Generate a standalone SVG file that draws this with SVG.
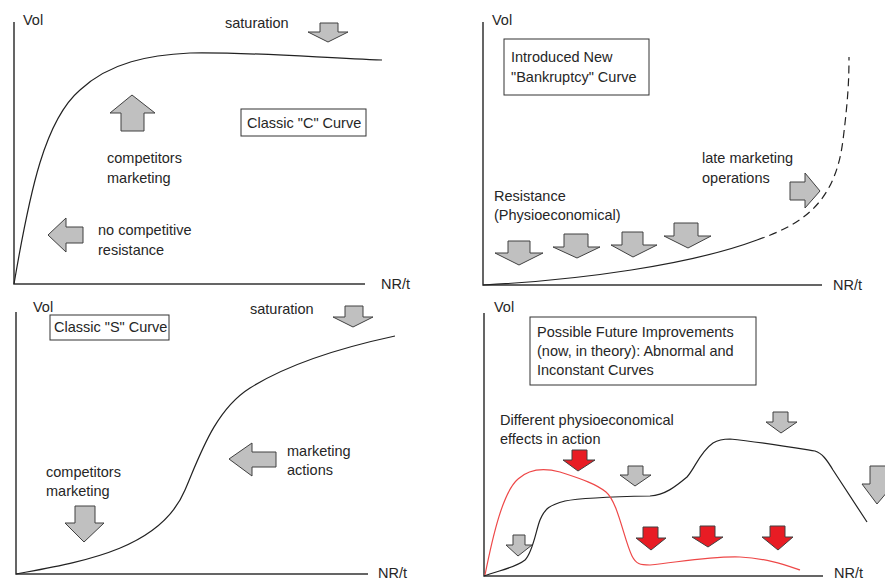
<svg xmlns="http://www.w3.org/2000/svg" width="885" height="581" viewBox="0 0 885 581">
  <style>
    text { font-family: "Liberation Sans", Arial, sans-serif; font-size: 14.5px; fill: #262626; }
    .axis { fill: none; stroke: #333; stroke-width: 1.5; }
    .curve { fill: none; stroke: #222; stroke-width: 1.2; }
    .dashed { fill: none; stroke: #222; stroke-width: 1.2; stroke-dasharray: 8 5; }
    .red-curve { fill: none; stroke: #ee4848; stroke-width: 1.2; }
    .box { fill: #fff; stroke: #333; stroke-width: 1; }
    .arrow { fill: #c0c0c0; stroke: #404040; stroke-width: 1; stroke-linejoin: miter; }
    .arrow-red { fill: #e81c24; stroke: #404040; stroke-width: 1; }
  </style>
  <rect width="885" height="581" fill="#fff"/>

  <!-- Panel 1: classic C curve -->
  <g id="panel-c">
    <path class="axis" d="M14,22 V284 H365"/>
    <text x="23" y="25">Vol</text>
    <text x="381" y="289">NR/t</text>
    <path class="curve" d="M14,284 C30,190 45,120 80,90 C110,62 150,55 190,53 C260,52 320,58 382,60"/>
    <g id="c-saturation">
      <text x="225" y="28">saturation</text>
      <path class="arrow" d="M320,23 H338 V32 H348 L328,42 L308,32 H320 Z"/>
    </g>
    <g id="c-competitors">
      <path class="arrow" d="M121,131 V113 H110 L132,95 L155,113 H144 V131 Z"/>
      <text x="107" y="163">competitors</text>
      <text x="107" y="183">marketing</text>
    </g>
    <g id="c-no-resistance">
      <path class="arrow" d="M83,227 H66 V218 L48,235 L66,252 V243 H83 Z"/>
      <text x="98" y="235">no competitive</text>
      <text x="98" y="255">resistance</text>
    </g>
    <g id="c-title">
      <rect class="box" x="241" y="109" width="125" height="27"/>
      <text x="247" y="128">Classic "C" Curve</text>
    </g>
  </g>

  <!-- Panel 2: bankruptcy curve -->
  <g id="panel-bankruptcy">
    <path class="axis" d="M483,22 V285 H822"/>
    <text x="492" y="25">Vol</text>
    <text x="833" y="290">NR/t</text>
    <path class="curve" d="M483,285 C580,280 690,265 757,240"/>
    <path class="dashed" d="M757,240 C800,225 835,205 843,140 C848,100 849,80 849,57"/>
    <g id="b-title">
      <rect class="box" x="504" y="39" width="145" height="56"/>
      <text x="511" y="62">Introduced New</text>
      <text x="511" y="82">"Bankruptcy" Curve</text>
    </g>
    <g id="b-late-marketing">
      <text x="702" y="163">late marketing</text>
      <text x="702" y="183">operations</text>
      <path class="arrow" d="M790,182 H805 V173 L820,191 L805,208 V200 H790 Z"/>
    </g>
    <g id="b-resistance">
      <text x="494" y="201">Resistance</text>
      <text x="494" y="220">(Physioeconomical)</text>
      <path class="arrow" d="M508,241 H530 V253 H543 L519,265 L495,253 H508 Z"/>
      <path class="arrow" d="M564,234 H588 V247 H600 L577,258 L553,247 H564 Z"/>
      <path class="arrow" d="M622,232 H643 V245 H657 L633,257 L611,245 H622 Z"/>
      <path class="arrow" d="M674,223 H698 V236 H711 L688,248 L664,236 H674 Z"/>
    </g>
  </g>

  <!-- Panel 3: classic S curve -->
  <g id="panel-s">
    <path class="axis" d="M16,312 V574 H368"/>
    <text x="33" y="312">Vol</text>
    <text x="378" y="578">NR/t</text>
    <path class="curve" d="M16,574 C80,562 160,550 185,490 C200,455 215,410 250,388 C285,366 330,350 395,336"/>
    <g id="s-title">
      <rect class="box" x="50" y="315" width="119" height="25"/>
      <text x="54" y="332">Classic "S" Curve</text>
    </g>
    <g id="s-saturation">
      <text x="250" y="314">saturation</text>
      <path class="arrow" d="M345,306 H363 V317 H373 L353,327 L333,317 H345 Z"/>
    </g>
    <g id="s-marketing-actions">
      <path class="arrow" d="M276,452 H252 V443 L229,459 L252,476 V467 H276 Z"/>
      <text x="287" y="456">marketing</text>
      <text x="287" y="475">actions</text>
    </g>
    <g id="s-competitors">
      <text x="46" y="477">competitors</text>
      <text x="46" y="496">marketing</text>
      <path class="arrow" d="M75,506 H95 V523 H104 L84,542 L65,523 H75 Z"/>
    </g>
  </g>

  <!-- Panel 4: abnormal and inconstant curves -->
  <g id="panel-future">
    <path class="axis" d="M484,313 V576 H823"/>
    <text x="494" y="312">Vol</text>
    <text x="834" y="578">NR/t</text>
    <path class="curve" d="M484,576 C500,570 515,568 525,560 C533,552 536,530 540,520 C545,508 550,505 565,501 C580,498 600,497 650,496 C665,495 675,487 687,477 C695,468 700,452 713,443 C718,440 722,439 730,439 C760,442 790,447 815,451 C822,453 827,460 833,470 L867,522"/>
    <path class="red-curve" d="M485,575 C493,535 503,492 518,479 C530,468 545,468 560,472 C578,478 595,483 606,492 C618,502 624,540 632,556 C636,564 640,565 650,565 C680,562 710,556 740,557 C765,558 785,565 800,570"/>
    <g id="f-title">
      <rect class="box" x="530" y="317" width="226" height="68"/>
      <text x="537" y="337">Possible Future Improvements</text>
      <text x="537" y="356">(now, in theory): Abnormal and</text>
      <text x="537" y="375">Inconstant Curves</text>
    </g>
    <g id="f-effects">
      <text x="500" y="425">Different physioeconomical</text>
      <text x="500" y="444">effects in action</text>
    </g>
    <g id="f-arrows">
      <path class="arrow" d="M513,535 H525 V545 H532 L518,556 L506,545 H513 Z"/>
      <path class="arrow-red" d="M572,450 H587 V460 H595 L578,471 L563,460 H572 Z"/>
      <path class="arrow" d="M628,466 H643 V475 H651 L635,486 L620,475 H628 Z"/>
      <path class="arrow" d="M773,412 H788 V422 H797 L781,433 L766,422 H773 Z"/>
      <path class="arrow" d="M870,466 H886 V484 H894 L877,504 L862,484 H870 Z"/>
      <path class="arrow-red" d="M643,527 H658 V538 H666 L651,550 L636,538 H643 Z"/>
      <path class="arrow-red" d="M700,526 H715 V537 H723 L708,547 L692,537 H700 Z"/>
      <path class="arrow-red" d="M770,526 H785 V537 H793 L778,550 L762,537 H770 Z"/>
    </g>
  </g>
</svg>
